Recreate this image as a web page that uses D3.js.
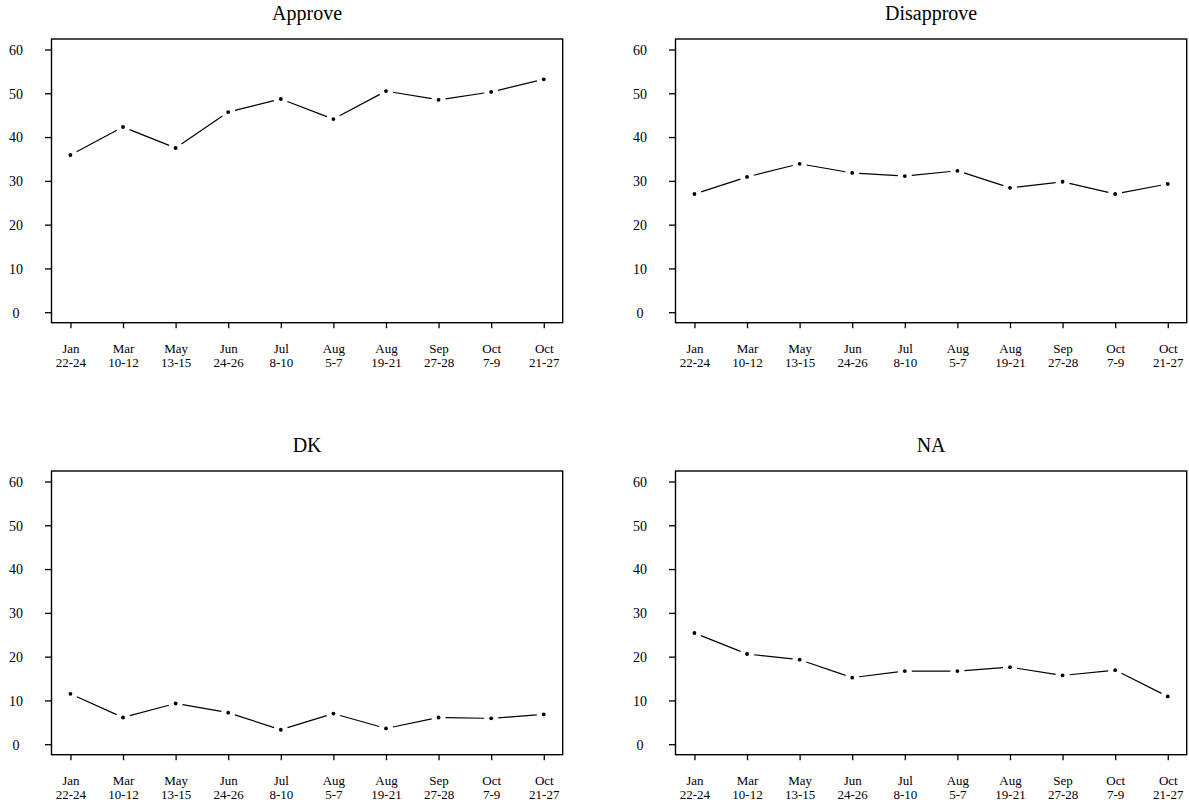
<!DOCTYPE html>
<html>
<head>
<meta charset="utf-8">
<script src="https://cdn.jsdelivr.net/npm/d3@7"></script>
<style>
  html, body { margin: 0; padding: 0; background: #fff; }
  svg { display: block; }
  text { font-family: "Liberation Serif", "Times New Roman", serif; fill: #000; }
</style>
</head>
<body>
<svg id="chart" width="1189" height="806"></svg>
<script>
// Poll dates (month / day range) shown on each x axis
const months = ["Jan", "Mar", "May", "Jun", "Jul", "Aug", "Aug", "Sep", "Oct", "Oct"];
const days   = ["22-24", "10-12", "13-15", "24-26", "8-10", "5-7", "19-21", "27-28", "7-9", "21-27"];

// Percent responding in each category
const approve    = [35.9, 42.3, 37.5, 45.7, 48.7, 44.1, 50.5, 48.5, 50.3, 53.2];
const disapprove = [27.0, 30.9, 33.9, 31.8, 31.1, 32.3, 28.4, 29.8, 27.0, 29.3];
const dk         = [11.5, 6.1, 9.3, 7.2, 3.3, 7.0, 3.6, 6.1, 5.9, 6.8];
const na         = [25.4, 20.6, 19.3, 15.2, 16.7, 16.7, 17.6, 15.7, 16.9, 10.9];

const yTicks = [0, 10, 20, 30, 40, 50, 60];

const panels = [
  { title: "Approve",    values: approve,    dx: 0,   dy: 0 },
  { title: "Disapprove", values: disapprove, dx: 624, dy: 0 },
  { title: "DK",         values: dk,         dx: 0,   dy: 432 },
  { title: "NA",         values: na,         dx: 624, dy: 432 }
];

const svg = d3.select("#chart");

// plot region of one panel (before offset)
const box = { left: 51.5, right: 562.7, top: 39, bottom: 322.7 };

// R-style 4% padding around the data range
const x = d3.scaleLinear().domain([1 - 0.36, 10 + 0.36]).range([box.left, box.right]);
const y = d3.scaleLinear().domain([-2.4, 62.4]).range([box.bottom, box.top]);

const gap = 7;   // blank space left around each point on the connecting line

panels.forEach(p => {
  const g = svg.append("g").attr("transform", `translate(${p.dx},${p.dy})`);

  // title
  g.append("text")
    .attr("x", (box.left + box.right) / 2)
    .attr("y", 20)
    .attr("text-anchor", "middle")
    .style("font-size", "20px")
    .text(p.title);

  // frame
  g.append("rect")
    .attr("x", box.left).attr("y", box.top)
    .attr("width", box.right - box.left).attr("height", box.bottom - box.top)
    .attr("fill", "none").attr("stroke", "#000").attr("stroke-width", 1.4);

  // y axis
  const ya = g.append("g")
    .attr("transform", `translate(${box.left},0)`)
    .call(d3.axisLeft(y).tickValues(yTicks).tickSize(6.5).tickSizeOuter(0).tickFormat(d3.format("d")));
  ya.select(".domain").remove();
  ya.selectAll(".tick line").attr("stroke", "#000").attr("stroke-width", 1.3);
  ya.selectAll(".tick text")
    .attr("x", 16 - box.left)
    .attr("text-anchor", "middle")
    .attr("dy", "0.35em")
    .style("font-size", "14px")
    .style("font-family", "'Liberation Serif', serif");

  // x axis with two-line date labels
  const xa = g.append("g")
    .attr("transform", `translate(0,${box.bottom})`)
    .call(d3.axisBottom(x).tickValues(d3.range(1, 11)).tickSize(5.6).tickSizeOuter(0).tickFormat(() => ""));
  xa.select(".domain").remove();
  xa.selectAll(".tick line").attr("stroke", "#000").attr("stroke-width", 1.3);
  xa.selectAll(".tick text").each(function(d) {
    const t = d3.select(this)
      .attr("y", 0).attr("dy", null)
      .attr("text-anchor", "middle")
      .style("font-size", "13px")
      .style("font-family", "'Liberation Serif', serif");
    t.append("tspan").attr("x", 0).attr("y", 30.6).text(months[d - 1]);
    t.append("tspan").attr("x", 0).attr("y", 44).text(days[d - 1]);
  });

  // connecting segments, trimmed near each point
  const pts = p.values.map((v, i) => [x(i + 1), y(v)]);
  for (let i = 0; i < pts.length - 1; i++) {
    const [x0, y0] = pts[i], [x1, y1] = pts[i + 1];
    const len = Math.hypot(x1 - x0, y1 - y0);
    if (len <= 2 * gap) continue;
    const ux = (x1 - x0) / len, uy = (y1 - y0) / len;
    g.append("line")
      .attr("x1", x0 + ux * gap).attr("y1", y0 + uy * gap)
      .attr("x2", x1 - ux * gap).attr("y2", y1 - uy * gap)
      .attr("stroke", "#000").attr("stroke-width", 1.2);
  }

  // points
  g.selectAll("circle.pt")
    .data(p.values)
    .join("circle")
    .attr("class", "pt")
    .attr("cx", (d, i) => x(i + 1))
    .attr("cy", d => y(d))
    .attr("r", 1.9)
    .attr("fill", "#000");
});
</script>
</body>
</html>
